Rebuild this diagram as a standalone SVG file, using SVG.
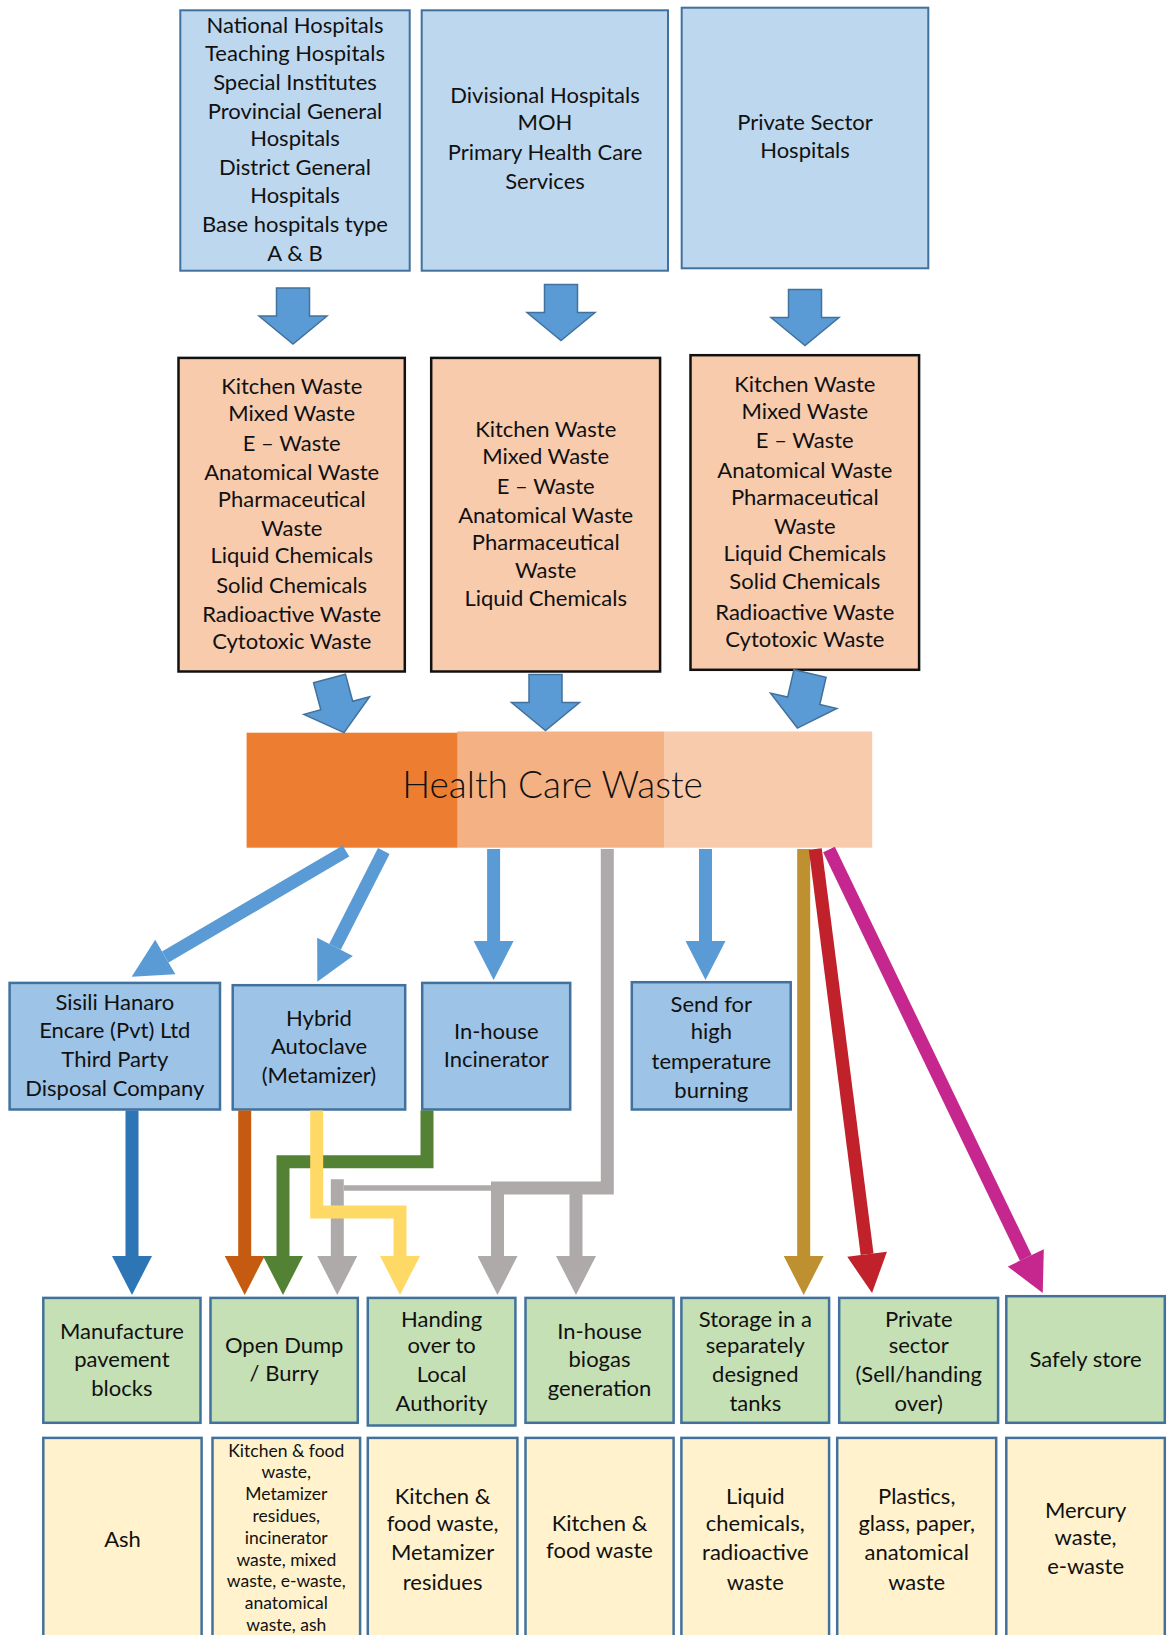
<svg xmlns="http://www.w3.org/2000/svg" width="1168" height="1635" viewBox="0 0 1168 1635">
  <style>
    text { font-family: Lato, "Liberation Sans", sans-serif; font-size: 22px; fill: #111; text-anchor: middle; }
    .small { font-size: 17.5px; }
    .title { font-size: 37px; font-weight: 300; }
    .src { fill: #BDD7EE; stroke: #41719C; stroke-width: 2; }
    .waste { fill: #F8CBAD; stroke: #111; stroke-width: 2.5; }
    .method { fill: #9DC3E6; stroke: #41719C; stroke-width: 2.5; }
    .result { fill: #C5E0B4; stroke: #41719C; stroke-width: 2.5; }
    .item { fill: #FFF2CC; stroke: #41719C; stroke-width: 2.5; }
    .block { fill: #5B9BD5; stroke: #41719C; stroke-width: 1.5; }
    .line { fill: none; stroke-width: 13; stroke-linejoin: miter; stroke-linecap: butt; }
  </style>
  <defs>
    <path id="blockArrow" d="M-16.5,0 H16.5 V28 H34 L0,56 L-34,28 H-16.5 Z"/>
    <marker id="hBlue" markerUnits="userSpaceOnUse" markerWidth="40" markerHeight="40" viewBox="0 0 39 40" refX="0" refY="20" orient="auto"><path d="M0,0 L39,20 L0,40 Z" fill="#5B9BD5"/></marker>
    <marker id="hDarkBlue" markerUnits="userSpaceOnUse" markerWidth="40" markerHeight="40" viewBox="0 0 39 40" refX="0" refY="20" orient="auto"><path d="M0,0 L39,20 L0,40 Z" fill="#2E75B6"/></marker>
    <marker id="hRust" markerUnits="userSpaceOnUse" markerWidth="40" markerHeight="40" viewBox="0 0 39 40" refX="0" refY="20" orient="auto"><path d="M0,0 L39,20 L0,40 Z" fill="#C55A11"/></marker>
    <marker id="hGreen" markerUnits="userSpaceOnUse" markerWidth="40" markerHeight="40" viewBox="0 0 39 40" refX="0" refY="20" orient="auto"><path d="M0,0 L39,20 L0,40 Z" fill="#548235"/></marker>
    <marker id="hGray" markerUnits="userSpaceOnUse" markerWidth="40" markerHeight="40" viewBox="0 0 39 40" refX="0" refY="20" orient="auto"><path d="M0,0 L39,20 L0,40 Z" fill="#AEAAAA"/></marker>
    <marker id="hYellow" markerUnits="userSpaceOnUse" markerWidth="40" markerHeight="40" viewBox="0 0 39 40" refX="0" refY="20" orient="auto"><path d="M0,0 L39,20 L0,40 Z" fill="#FFD966"/></marker>
    <marker id="hGold" markerUnits="userSpaceOnUse" markerWidth="40" markerHeight="40" viewBox="0 0 39 40" refX="0" refY="20" orient="auto"><path d="M0,0 L39,20 L0,40 Z" fill="#BF9030"/></marker>
    <marker id="hRed" markerUnits="userSpaceOnUse" markerWidth="40" markerHeight="40" viewBox="0 0 39 40" refX="0" refY="20" orient="auto"><path d="M0,0 L39,20 L0,40 Z" fill="#C0212A"/></marker>
    <marker id="hMagenta" markerUnits="userSpaceOnUse" markerWidth="40" markerHeight="40" viewBox="0 0 39 40" refX="0" refY="20" orient="auto"><path d="M0,0 L39,20 L0,40 Z" fill="#C5278F"/></marker>
  </defs>

  <rect width="1168" height="1635" fill="#fff"/>

  <!-- Hospital categories -->
  <g id="src-government">
    <rect class="src" x="180.3" y="10.3" width="229.4" height="260.4"/>
    <text x="295" y="33.3">National Hospitals</text>
    <text x="295" y="61">Teaching Hospitals</text>
    <text x="295" y="90">Special Institutes</text>
    <text x="295" y="118.5">Provincial General</text>
    <text x="295" y="145.7">Hospitals</text>
    <text x="295" y="175.2">District General</text>
    <text x="295" y="202.5">Hospitals</text>
    <text x="295" y="231.5">Base hospitals type</text>
    <text x="295" y="260.8">A &amp; B</text>
  </g>
  <g id="src-divisional">
    <rect class="src" x="421.7" y="10.3" width="246.3" height="260.4"/>
    <text x="545" y="103.2">Divisional Hospitals</text>
    <text x="545" y="130.2">MOH</text>
    <text x="545" y="160.2">Primary Health Care</text>
    <text x="545" y="189.2">Services</text>
  </g>
  <g id="src-private">
    <rect class="src" x="681.7" y="7.7" width="246.6" height="260.6"/>
    <text x="805" y="130.2">Private Sector</text>
    <text x="805" y="157.5">Hospitals</text>
  </g>

  <!-- Waste generated per category -->
  <g id="waste-government">
    <rect class="waste" x="178.5" y="357.9" width="226.3" height="313.6"/>
    <text x="291.7" y="394.2">Kitchen Waste</text>
    <text x="291.7" y="420.8">Mixed Waste</text>
    <text x="291.7" y="450.8">E – Waste</text>
    <text x="291.7" y="479.8">Anatomical Waste</text>
    <text x="291.7" y="506.5">Pharmaceutical</text>
    <text x="291.7" y="535.8">Waste</text>
    <text x="291.7" y="562.5">Liquid Chemicals</text>
    <text x="291.7" y="592.5">Solid Chemicals</text>
    <text x="291.7" y="621.5">Radioactive Waste</text>
    <text x="291.7" y="649.2">Cytotoxic Waste</text>
  </g>
  <g id="waste-divisional">
    <rect class="waste" x="431.2" y="357.9" width="228.9" height="313.6"/>
    <text x="545.7" y="436.8">Kitchen Waste</text>
    <text x="545.7" y="464.2">Mixed Waste</text>
    <text x="545.7" y="494.2">E – Waste</text>
    <text x="545.7" y="522.5">Anatomical Waste</text>
    <text x="545.7" y="549.8">Pharmaceutical</text>
    <text x="545.7" y="578.2">Waste</text>
    <text x="545.7" y="605.8">Liquid Chemicals</text>
  </g>
  <g id="waste-private">
    <rect class="waste" x="690.5" y="355.2" width="228.6" height="314.6"/>
    <text x="804.8" y="391.8">Kitchen Waste</text>
    <text x="804.8" y="419.2">Mixed Waste</text>
    <text x="804.8" y="447.5">E – Waste</text>
    <text x="804.8" y="477.5">Anatomical Waste</text>
    <text x="804.8" y="504.8">Pharmaceutical</text>
    <text x="804.8" y="533.5">Waste</text>
    <text x="804.8" y="560.8">Liquid Chemicals</text>
    <text x="804.8" y="589.2">Solid Chemicals</text>
    <text x="804.8" y="619.8">Radioactive Waste</text>
    <text x="804.8" y="646.5">Cytotoxic Waste</text>
  </g>

  <!-- Combined waste stream -->
  <g id="health-care-waste">
    <rect x="457.2" y="731.5" width="207" height="116.2" fill="#F4B183"/>
    <rect x="664" y="731.5" width="208.2" height="116.2" fill="#F8CBAD"/>
    <rect x="246.6" y="732.7" width="210.8" height="115" fill="#ED7D31"/>
    <text class="title" x="552.5" y="797.7">Health Care Waste</text>
  </g>

  <!-- Treatment / disposal methods -->
  <g id="m-sisili">
    <rect class="method" x="9.6" y="982.9" width="210.4" height="126.6"/>
    <text x="114.8" y="1010.2">Sisili Hanaro</text>
    <text x="114.8" y="1037.5">Encare (Pvt) Ltd</text>
    <text x="114.8" y="1066.5">Third Party</text>
    <text x="114.8" y="1095.8">Disposal Company</text>
  </g>
  <g id="m-autoclave">
    <rect class="method" x="232.7" y="985.2" width="172.5" height="124.3"/>
    <text x="319" y="1025.8">Hybrid</text>
    <text x="319" y="1053.5">Autoclave</text>
    <text x="319" y="1082.5">(Metamizer)</text>
  </g>
  <g id="m-incinerator">
    <rect class="method" x="422.2" y="982.9" width="148" height="126.6"/>
    <text x="496.2" y="1039.2">In-house</text>
    <text x="496.2" y="1066.5">Incinerator</text>
  </g>
  <g id="m-hightemp">
    <rect class="method" x="631.8" y="982.2" width="158.9" height="127.3"/>
    <text x="711.3" y="1011.8">Send for</text>
    <text x="711.3" y="1039.2">high</text>
    <text x="711.3" y="1068.5">temperature</text>
    <text x="711.3" y="1097.5">burning</text>
  </g>

  <!-- Final destinations -->
  <g id="d-pavement">
    <rect class="result" x="43.3" y="1297.9" width="157.2" height="124.9"/>
    <text x="121.9" y="1339.2">Manufacture</text>
    <text x="121.9" y="1366.5">pavement</text>
    <text x="121.9" y="1395.8">blocks</text>
  </g>
  <g id="d-dump">
    <rect class="result" x="210.5" y="1297.9" width="147.3" height="124.9"/>
    <text x="284.2" y="1353.2">Open Dump</text>
    <text x="284.2" y="1380.8">/ Burry</text>
  </g>
  <g id="d-local">
    <rect class="result" x="367.8" y="1297.9" width="147.6" height="127.6"/>
    <text x="441.6" y="1326.5">Handing</text>
    <text x="441.6" y="1353.2">over to</text>
    <text x="441.6" y="1381.8">Local</text>
    <text x="441.6" y="1410.8">Authority</text>
  </g>
  <g id="d-biogas">
    <rect class="result" x="525.5" y="1297.9" width="148.1" height="124.9"/>
    <text x="599.5" y="1339.2">In-house</text>
    <text x="599.5" y="1366.5">biogas</text>
    <text x="599.5" y="1395.8">generation</text>
  </g>
  <g id="d-tanks">
    <rect class="result" x="681.4" y="1297.9" width="147.7" height="124.9"/>
    <text x="755.3" y="1326.5">Storage in a</text>
    <text x="755.3" y="1353.2">separately</text>
    <text x="755.3" y="1381.8">designed</text>
    <text x="755.3" y="1410.8">tanks</text>
  </g>
  <g id="d-private">
    <rect class="result" x="839.2" y="1297.9" width="158.9" height="124.9"/>
    <text x="918.7" y="1326.5">Private</text>
    <text x="918.7" y="1353.2">sector</text>
    <text x="918.7" y="1381.8">(Sell/handing</text>
    <text x="918.7" y="1410.8">over)</text>
  </g>
  <g id="d-safe">
    <rect class="result" x="1006.3" y="1296.2" width="158.5" height="126.6"/>
    <text x="1085.6" y="1366.5">Safely store</text>
  </g>

  <!-- Waste types per destination -->
  <g id="w-pavement">
    <rect class="item" x="43.3" y="1437.9" width="158.3" height="215"/>
    <text x="122.5" y="1546.8">Ash</text>
  </g>
  <g id="w-dump">
    <rect class="item" x="212.5" y="1437.9" width="147.6" height="215"/>
    <text class="small" x="286.3" y="1456.5">Kitchen &amp; food</text>
    <text class="small" x="286.3" y="1478.3">waste,</text>
    <text class="small" x="286.3" y="1500.1">Metamizer</text>
    <text class="small" x="286.3" y="1521.9">residues,</text>
    <text class="small" x="286.3" y="1543.7">incinerator</text>
    <text class="small" x="286.3" y="1565.5">waste, mixed</text>
    <text class="small" x="286.3" y="1587.3">waste, e-waste,</text>
    <text class="small" x="286.3" y="1609.1">anatomical</text>
    <text class="small" x="286.3" y="1630.9">waste, ash</text>
  </g>
  <g id="w-local">
    <rect class="item" x="367.8" y="1437.9" width="149.6" height="215"/>
    <text x="442.6" y="1504.2">Kitchen &amp;</text>
    <text x="442.6" y="1530.8">food waste,</text>
    <text x="442.6" y="1560.2">Metamizer</text>
    <text x="442.6" y="1590.2">residues</text>
  </g>
  <g id="w-biogas">
    <rect class="item" x="525.5" y="1437.9" width="148.1" height="215"/>
    <text x="599.5" y="1530.8">Kitchen &amp;</text>
    <text x="599.5" y="1557.5">food waste</text>
  </g>
  <g id="w-tanks">
    <rect class="item" x="681.4" y="1437.9" width="147.7" height="215"/>
    <text x="755.3" y="1504.2">Liquid</text>
    <text x="755.3" y="1530.8">chemicals,</text>
    <text x="755.3" y="1560.2">radioactive</text>
    <text x="755.3" y="1590.2">waste</text>
  </g>
  <g id="w-private">
    <rect class="item" x="837.2" y="1437.9" width="159" height="215"/>
    <text x="916.7" y="1504.2">Plastics,</text>
    <text x="916.7" y="1530.8">glass, paper,</text>
    <text x="916.7" y="1560.2">anatomical</text>
    <text x="916.7" y="1590.2">waste</text>
  </g>
  <g id="w-safe">
    <rect class="item" x="1006.3" y="1437.9" width="158.5" height="215"/>
    <text x="1085.6" y="1517.5">Mercury</text>
    <text x="1085.6" y="1544.8">waste,</text>
    <text x="1085.6" y="1574.2">e-waste</text>
  </g>

  <!-- Connectors -->
  <g id="connectors">
    <!-- block arrows: sources to waste, waste to stream -->
    <use href="#blockArrow" class="block" transform="translate(293,288)"/>
    <use href="#blockArrow" class="block" transform="translate(561,284.5)"/>
    <use href="#blockArrow" class="block" transform="translate(805,289.5)"/>
    <use href="#blockArrow" class="block" transform="translate(329.5,678.5) rotate(-15)"/>
    <use href="#blockArrow" class="block" transform="translate(545.5,674.5)"/>
    <use href="#blockArrow" class="block" transform="translate(810,673.5) rotate(13)"/>

    <!-- stream to methods -->
    <path class="line" stroke="#5B9BD5" d="M346,851 L165.3,957" marker-end="url(#hBlue)"/>
    <path class="line" stroke="#5B9BD5" d="M383.8,851 L335,946.9" marker-end="url(#hBlue)"/>
    <path class="line" stroke="#5B9BD5" d="M493.6,849 V941" marker-end="url(#hBlue)"/>
    <path class="line" stroke="#5B9BD5" d="M705.5,849 V941" marker-end="url(#hBlue)"/>

    <!-- direct routes from stream -->
    <path class="line" stroke="#BF9030" d="M803.7,849 V1256" marker-end="url(#hGold)"/>
    <path class="line" stroke="#C0212A" d="M815.3,849 L867.1,1254.3" marker-end="url(#hRed)"/>
    <path class="line" stroke="#C5278F" d="M829,849.5 L1025.8,1257.9" marker-end="url(#hMagenta)"/>

    <!-- gray route: dump, local authority, biogas -->
    <path class="line" stroke="#AEAAAA" d="M344,1188 H492" style="stroke-width:5.7"/>
    <path class="line" stroke="#AEAAAA" d="M607.3,849 V1188 H497.5 V1256" marker-end="url(#hGray)"/>
    <path class="line" stroke="#AEAAAA" d="M576,1188 V1256" marker-end="url(#hGray)"/>
    <path class="line" stroke="#AEAAAA" d="M337.3,1179.3 V1256" marker-end="url(#hGray)"/>

    <!-- methods to destinations -->
    <path class="line" stroke="#2E75B6" d="M132,1110.5 V1256" marker-end="url(#hDarkBlue)"/>
    <path class="line" stroke="#C55A11" d="M244.7,1110.5 V1256" marker-end="url(#hRust)"/>
    <path class="line" stroke="#548235" d="M427,1110.5 V1161.7 H283 V1256" marker-end="url(#hGreen)"/>
    <path class="line" stroke="#FFD966" d="M316.7,1110.5 V1212 H400 V1256" marker-end="url(#hYellow)"/>
  </g>
</svg>
